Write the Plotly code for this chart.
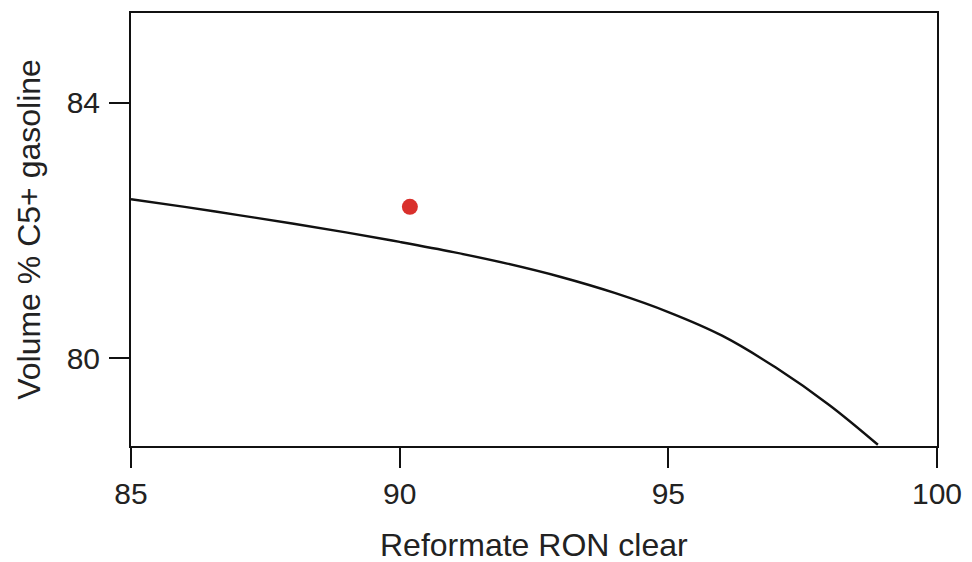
import plotly.graph_objects as go

ron = [85, 86, 87, 88, 89, 90, 91, 92, 93, 94, 95, 96, 97, 98, 98.9]
volume = [82.49, 82.37, 82.24, 82.11, 81.97, 81.82, 81.66, 81.48, 81.27, 81.02, 80.72, 80.35, 79.85, 79.26, 78.64]

point_ron = [90.19]
point_volume = [82.37]

x_ticks = [85, 90, 95, 100]
y_ticks = [80, 84]
x_title = "Reformate RON clear"
y_title = "Volume % C5+ gasoline"

fig = go.Figure()
fig.add_trace(go.Scatter(x=ron, y=volume, mode="lines",
                         line=dict(color="#111111", width=2.4, shape="spline", smoothing=1.0),
                         showlegend=False))
fig.add_trace(go.Scatter(x=point_ron, y=point_volume, mode="markers",
                         marker=dict(color="#d9302c", size=16),
                         showlegend=False))

font_family = "Liberation Sans, Arial, sans-serif"
fig.update_layout(
    width=972, height=562,
    margin=dict(l=131, r=35, t=13, b=116),
    plot_bgcolor="white", paper_bgcolor="white",
    font=dict(family=font_family, size=30, color="#222222"),
)
fig.update_xaxes(range=[85, 100], tickvals=x_ticks, ticks="outside", ticklen=20, tickwidth=2,
                 tickcolor="#111111", showline=True, linecolor="#111111", linewidth=2,
                 mirror=True, showgrid=False, zeroline=False, automargin=False,
                 tickfont=dict(size=30, color="#222222"))
fig.update_yaxes(range=[78.62, 85.41], tickvals=y_ticks, ticks="outside", ticklen=20, tickwidth=2,
                 tickcolor="#111111", showline=True, linecolor="#111111", linewidth=2,
                 mirror=True, showgrid=False, zeroline=False, automargin=False,
                 ticklabelstandoff=3,
                 tickfont=dict(size=30, color="#222222"),
                 title=dict(text=y_title, font=dict(size=32, color="#222222"), standoff=16))
fig.add_annotation(text=x_title, xref="paper", yref="paper", x=0.5, y=0,
                   xanchor="center", yanchor="middle", yshift=-99, showarrow=False,
                   font=dict(size=32, color="#222222"))

fig.write_html("out.html", config={"displayModeBar": False},
               post_script="document.body.style.margin='0';document.body.style.overflow='hidden';")
